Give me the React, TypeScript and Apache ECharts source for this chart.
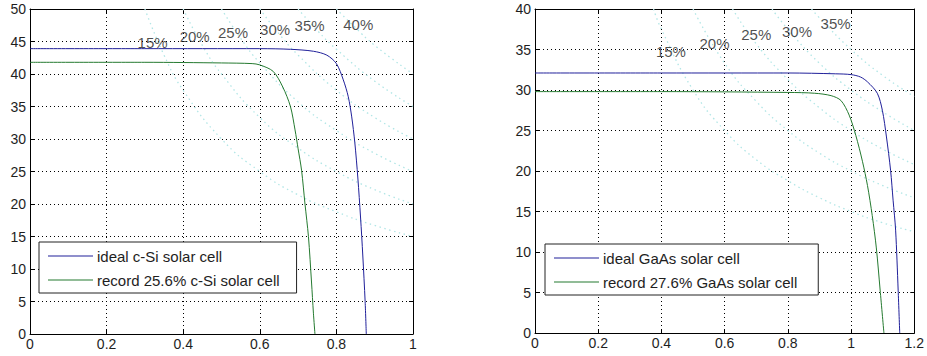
import React, { useEffect, useRef } from 'react';
import * as echarts from 'echarts';

type Pt = [number, number];

// ---- Left panel: c-Si (V in volts, J in mA/cm^2) ----
const leftIdealName = 'ideal c-Si solar cell';
const leftRecordName = 'record 25.6% c-Si solar cell';
const leftIdeal: Pt[] = [
  [0, 43.9], [0.3, 43.9], [0.6, 43.9], [0.68, 43.8], [0.74, 43.5], [0.775, 42.9],
  [0.8, 41.6], [0.818, 39.1], [0.831, 36.5], [0.84, 33.4], [0.848, 29.5],
  [0.856, 24], [0.863, 18], [0.869, 12], [0.875, 5], [0.878, 0],
];
const leftRecord: Pt[] = [
  [0, 41.8], [0.3, 41.8], [0.5, 41.7], [0.58, 41.6], [0.6, 41.4], [0.635, 40.4],
  [0.66, 38.0], [0.68, 35.0], [0.692, 31.4], [0.7, 28.5], [0.709, 25.2],
  [0.718, 20], [0.727, 15], [0.735, 8], [0.74, 3.2], [0.744, 0],
];
const leftIsoLabels = ['15%', '20%', '25%', '30%', '35%', '40%'];
const leftIsoLabelPts: Pt[] = [
  [0.32, 44.9], [0.43, 45.8], [0.53, 46.4], [0.64, 46.8], [0.73, 47.4], [0.857, 47.6],
];
const leftIso: Pt[][] = [
  [[0.3, 50], [0.35, 42.9], [0.4, 37.5], [0.5, 30], [0.6, 25], [0.7, 21.4], [0.8, 18.8], [0.9, 16.7], [1, 15]],
  [[0.4, 50], [0.45, 44.4], [0.5, 40], [0.6, 33.3], [0.7, 28.6], [0.8, 25], [0.9, 22.2], [1, 20]],
  [[0.5, 50], [0.55, 45.5], [0.6, 41.7], [0.7, 35.7], [0.8, 31.3], [0.9, 27.8], [1, 25]],
  [[0.6, 50], [0.65, 46.2], [0.7, 42.9], [0.8, 37.5], [0.9, 33.3], [1, 30]],
  [[0.7, 50], [0.75, 46.7], [0.8, 43.8], [0.9, 38.9], [1, 35]],
  [[0.8, 50], [0.85, 47.1], [0.9, 44.4], [1, 40]],
];

// ---- Right panel: GaAs ----
const rightIdealName = 'ideal GaAs solar cell';
const rightRecordName = 'record 27.6% GaAs solar cell';
const rightIdeal: Pt[] = [
  [0, 32.1], [0.4, 32.1], [0.8, 32.1], [0.95, 32.0], [1.0, 31.9], [1.03, 31.6],
  [1.052, 31.0], [1.083, 29.6], [1.099, 27.5], [1.112, 24.2], [1.125, 20.1],
  [1.133, 16.4], [1.141, 12.7], [1.149, 5.3], [1.154, 0],
];
const rightRecord: Pt[] = [
  [0, 29.8], [0.4, 29.8], [0.8, 29.7], [0.885, 29.6], [0.937, 29.3], [0.968, 28.7],
  [0.994, 26.9], [1.015, 24.4], [1.036, 21.2], [1.052, 18.2], [1.067, 14.5],
  [1.08, 10.5], [1.092, 5.3], [1.104, 0],
];
const rightIsoLabels = ['15%', '20%', '25%', '30%', '35%'];
const rightIsoLabelPts: Pt[] = [
  [0.43, 34.7], [0.568, 35.7], [0.7, 36.8], [0.829, 37.2], [0.951, 38.2],
];
const rightIso: Pt[][] = [
  [[0.375, 40], [0.4, 37.5], [0.5, 30], [0.6, 25], [0.7, 21.4], [0.8, 18.8], [0.9, 16.7], [1, 15], [1.1, 13.6], [1.2, 12.5]],
  [[0.5, 40], [0.6, 33.3], [0.7, 28.6], [0.8, 25], [0.9, 22.2], [1, 20], [1.1, 18.2], [1.2, 16.7]],
  [[0.625, 40], [0.7, 35.7], [0.8, 31.3], [0.9, 27.8], [1, 25], [1.1, 22.7], [1.2, 20.8]],
  [[0.75, 40], [0.8, 37.5], [0.9, 33.3], [1, 30], [1.1, 27.3], [1.2, 25]],
  [[0.875, 40], [0.9, 38.9], [1, 35], [1.1, 31.8], [1.2, 29.2]],
];

const FONT = "'Liberation Sans', Arial, sans-serif";
const BLUE = '#20209a';
const GREEN = '#257a30';
const ISO = '#b2e6e6';
const TEXT = '#1e1e1e';

function xAxes(gridIndex: number, max: number) {
  const common = {
    type: 'value', gridIndex, min: 0, max, interval: 0.2,
    axisLine: { show: true, onZero: false, lineStyle: { color: '#000', width: 1 } },
    axisTick: { show: true, inside: true, length: 4, lineStyle: { color: '#000' } },
  };
  return [
    {
      ...common, position: 'bottom',
      axisLabel: { fontSize: 14, color: TEXT, fontFamily: FONT, margin: 3 },
      splitLine: { show: true, lineStyle: { color: '#000', type: [1, 3], width: 1 } },
    },
    { ...common, position: 'top', axisLabel: { show: false }, splitLine: { show: false } },
  ];
}

function yAxes(gridIndex: number, max: number) {
  const common = {
    type: 'value', gridIndex, min: 0, max, interval: 5,
    axisLine: { show: true, onZero: false, lineStyle: { color: '#000', width: 1 } },
    axisTick: { show: true, inside: true, length: 4, lineStyle: { color: '#000' } },
  };
  return [
    {
      ...common, position: 'left',
      axisLabel: { fontSize: 14, color: TEXT, fontFamily: FONT, margin: 4 },
      splitLine: { show: true, lineStyle: { color: '#000', type: [1, 3], width: 1 } },
    },
    { ...common, position: 'right', axisLabel: { show: false }, splitLine: { show: false } },
  ];
}

function isoSeries(curves: Pt[][], axisIdx: number) {
  return curves.map((c, i) => ({
    type: 'line', name: 'iso' + axisIdx + '_' + i, xAxisIndex: axisIdx, yAxisIndex: axisIdx,
    data: c, symbol: 'none', smooth: true, silent: true, z: 1,
    lineStyle: { color: ISO, width: 1.3, type: [1.5, 3.5] },
  }));
}

function labelSeries(labels: string[], pts: Pt[], axisIdx: number) {
  return {
    type: 'scatter', name: 'labels' + axisIdx, xAxisIndex: axisIdx, yAxisIndex: axisIdx,
    symbolSize: 1, silent: true, z: 5,
    itemStyle: { color: 'rgba(0,0,0,0)' },
    data: labels.map((l, i) => ({ name: l, value: pts[i] })),
    label: {
      show: true, position: 'inside', formatter: '{b}',
      fontSize: 15, color: TEXT, fontFamily: FONT,
    },
  };
}

function curve(name: string, data: Pt[], color: string, axisIdx: number) {
  return {
    type: 'line', name, xAxisIndex: axisIdx, yAxisIndex: axisIdx, data,
    symbol: 'none', smooth: 0.3, z: 3,
    lineStyle: { color, width: 1 }, itemStyle: { color },
  };
}

function legend(names: string[], left: number, top: number, padRight: number) {
  return {
    data: names.map((n) => ({ name: n, icon: 'rect' })),
    orient: 'vertical', left, top,
    backgroundColor: '#fff', borderColor: '#222', borderWidth: 1,
    padding: [5, padRight, 4, 9], itemGap: 6, itemWidth: 45, itemHeight: 1,
    selectedMode: false,
    textStyle: { fontSize: 15, color: TEXT, fontFamily: FONT, lineHeight: 18, padding: [0, 0, 0, -1] },
  };
}

export default function App() {
  const ref = useRef<HTMLDivElement>(null);
  useEffect(() => {
    if (!ref.current) return;
    const chart = echarts.init(ref.current, undefined, { renderer: 'svg' });
    const xa = [...xAxes(0, 1), ...xAxes(1, 1.2)];
    const ya = [...yAxes(0, 50), ...yAxes(1, 40)];
    xa.forEach((a: any, i) => (a.gridIndex = i < 2 ? 0 : 1));
    ya.forEach((a: any, i) => (a.gridIndex = i < 2 ? 0 : 1));
    const option: any = {
      animation: false,
      backgroundColor: '#fff',
      grid: [
        { left: 30, right: 514, top: 9, bottom: 22 },
        { left: 535, right: 10, top: 9, bottom: 23 },
      ],
      xAxis: xa,
      yAxis: ya,
      legend: [
        legend([leftIdealName, leftRecordName], 39, 242, 17),
        legend([rightIdealName, rightRecordName], 545, 244, 21),
      ],
      series: [
        ...isoSeries(leftIso, 0),
        ...isoSeries(rightIso, 2),
        labelSeries(leftIsoLabels, leftIsoLabelPts, 0),
        labelSeries(rightIsoLabels, rightIsoLabelPts, 2),
        curve(leftIdealName, leftIdeal, BLUE, 0),
        curve(leftRecordName, leftRecord, GREEN, 0),
        curve(rightIdealName, rightIdeal, BLUE, 2),
        curve(rightRecordName, rightRecord, GREEN, 2),
      ],
    };
    chart.setOption(option);
    return () => chart.dispose();
  }, []);
  return (
    <div
      ref={ref}
      style={{ position: 'fixed', left: 0, top: 0, width: 927, height: 356, background: '#fff' }}
    />
  );
}
